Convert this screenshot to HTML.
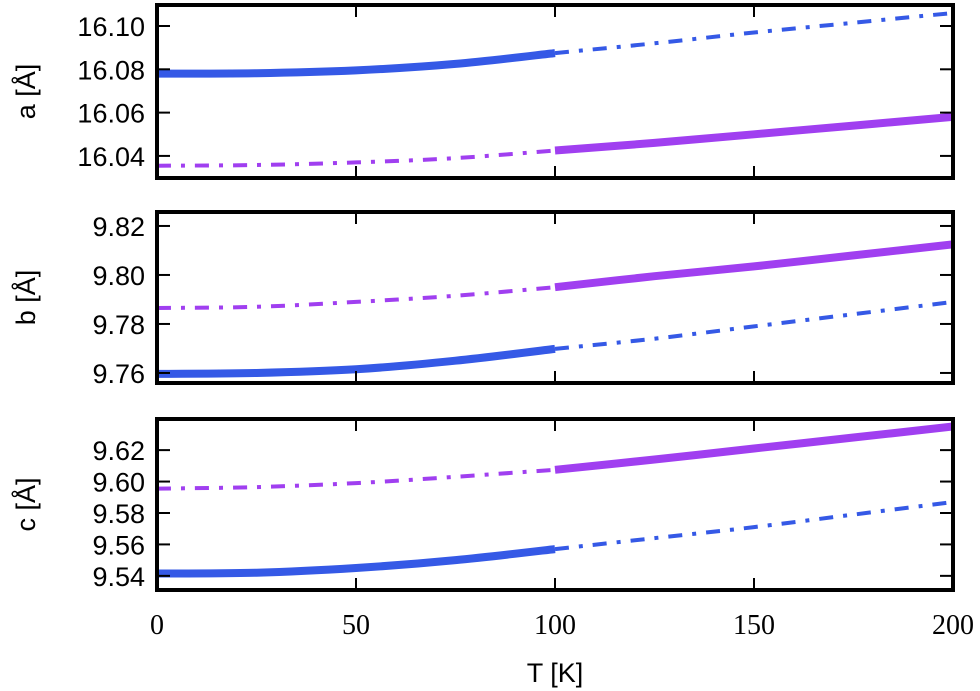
<!DOCTYPE html>
<html><head><meta charset="utf-8"><style>
body{margin:0;background:#fff}
svg{display:block}
</style></head><body>
<svg id="chart" width="980" height="691" xmlns="http://www.w3.org/2000/svg"></svg>
<script>
const temps=[0,25,50,75,100,125,150,175,200];
const aBlue=[16.078,16.0782,16.0795,16.0825,16.0875,16.092,16.097,16.1015,16.106];
const aPurple=[16.0355,16.0358,16.037,16.039,16.0425,16.046,16.050,16.054,16.058];
const bBlue=[9.7596,9.760,9.7615,9.765,9.7698,9.774,9.779,9.784,9.789];
const bPurple=[9.7865,9.787,9.789,9.7915,9.795,9.7995,9.8035,9.808,9.8125];
const cBlue=[9.5415,9.542,9.545,9.550,9.557,9.564,9.571,9.579,9.587];
const cPurple=[9.5955,9.5965,9.599,9.603,9.6075,9.614,9.621,9.628,9.635];
const aTicks=[16.04,16.06,16.08,16.10];
const bTicks=[9.76,9.78,9.80,9.82];
const cTicks=[9.54,9.56,9.58,9.60,9.62];
const xTicks=[0,50,100,150,200];
const blueSolidUntil=100;

const NS='http://www.w3.org/2000/svg';
const svg=document.getElementById('chart');
const X0=157,X1=953;
const xs=t=>X0+(t-0)/(200-0)*(X1-X0);
function mk(tag,attrs,parent){const e=document.createElementNS(NS,tag);for(const k in attrs)e.setAttribute(k,attrs[k]);(parent||svg).appendChild(e);return e;}
function smoothPath(P){
 let d='M'+P[0][0].toFixed(1)+','+P[0][1].toFixed(1);
 for(let i=0;i<P.length-1;i++){
  const p0=P[Math.max(0,i-1)],p1=P[i],p2=P[i+1],p3=P[Math.min(P.length-1,i+2)];
  const c1=[p1[0]+(p2[0]-p0[0])/6,p1[1]+(p2[1]-p0[1])/6];
  const c2=[p2[0]-(p3[0]-p1[0])/6,p2[1]-(p3[1]-p1[1])/6];
  d+=` C${c1[0].toFixed(1)},${c1[1].toFixed(1)} ${c2[0].toFixed(1)},${c2[1].toFixed(1)} ${p2[0].toFixed(1)},${p2[1].toFixed(1)}`;
 }
 return d;
}
const panels=[
 {name:'a',label:'a [Å]',top:5,bot:178,ymin:16.0298,ymax:16.1097,ticks:aTicks,blue:aBlue,purple:aPurple},
 {name:'b',label:'b [Å]',top:212,bot:383,ymin:9.7559,ymax:9.8257,ticks:bTicks,blue:bBlue,purple:bPurple},
 {name:'c',label:'c [Å]',top:419,bot:590,ymin:9.531,ymax:9.6398,ticks:cTicks,blue:cBlue,purple:cPurple}
];
const BLUE='#3559e6',PURPLE='#a03ff0';
panels.forEach((p,pi)=>{
 const g=mk('g',{});
 
 
 const ys=v=>p.bot-(v-p.ymin)/(p.ymax-p.ymin)*(p.bot-p.top);
 const cp=mk('clipPath',{id:'cp'+pi},g);
 mk('rect',{x:X0,y:p.top,width:X1-X0,height:p.bot-p.top},cp);
 function seg(arr,from,to,solid,color,nm){
  const pts=[];temps.forEach((t,i)=>{if(t>=from&&t<=to)pts.push([xs(t),ys(arr[i])]);});
  const l=mk('path',{d:smoothPath(pts),fill:'none',stroke:color,'stroke-width':solid?8:4,'clip-path':'url(#cp'+pi+')'},g);
  if(!solid)l.setAttribute('stroke-dasharray','14,10,4,10');
  
  
 }
 seg(p.blue,0,blueSolidUntil,true,BLUE,p.name+'-blue-solid');
 seg(p.blue,blueSolidUntil,200,false,BLUE,p.name+'-blue-dashdot');
 seg(p.purple,0,blueSolidUntil,false,PURPLE,p.name+'-purple-dashdot');
 seg(p.purple,blueSolidUntil,200,true,PURPLE,p.name+'-purple-solid');
 const fr=mk('rect',{x:X0,y:p.top,width:X1-X0,height:p.bot-p.top,fill:'none',stroke:'#000','stroke-width':4},g);
 
 
 p.ticks.forEach(v=>{
  const y=ys(v);
  mk('line',{x1:X0,x2:X0+13,y1:y,y2:y,stroke:'#000','stroke-width':2},g);
  mk('line',{x1:X1-13,x2:X1,y1:y,y2:y,stroke:'#000','stroke-width':2},g);
  const t=mk('text',{x:X0-12,y:y+10,'text-anchor':'end','font-family':'Liberation Sans, sans-serif','font-size':27},g);
  t.textContent=v.toFixed(2);
  
  
 });
 xTicks.forEach(v=>{
  const x=xs(v);
  mk('line',{x1:x,x2:x,y1:p.bot,y2:p.bot-12,stroke:'#000','stroke-width':2},g);
  mk('line',{x1:x,x2:x,y1:p.top,y2:p.top+12,stroke:'#000','stroke-width':2},g);
 });
 const cy=(p.top+p.bot)/2;
 const yl=mk('text',{x:0,y:0,transform:`translate(35,${cy}) rotate(-90)`,'text-anchor':'middle','font-family':'Liberation Sans, sans-serif','font-size':27},g);
 yl.textContent=p.label;
 
 
});
xTicks.forEach(v=>{
 const t=mk('text',{x:xs(v),y:634,'text-anchor':'middle','font-family':'Liberation Serif, serif','font-size':28});
 t.textContent=v;
 
 
});
const xt=mk('text',{x:(X0+X1)/2,y:682,'text-anchor':'middle','font-family':'Liberation Sans, sans-serif','font-size':27});
xt.textContent='T [K]';


</script>
</body></html>
